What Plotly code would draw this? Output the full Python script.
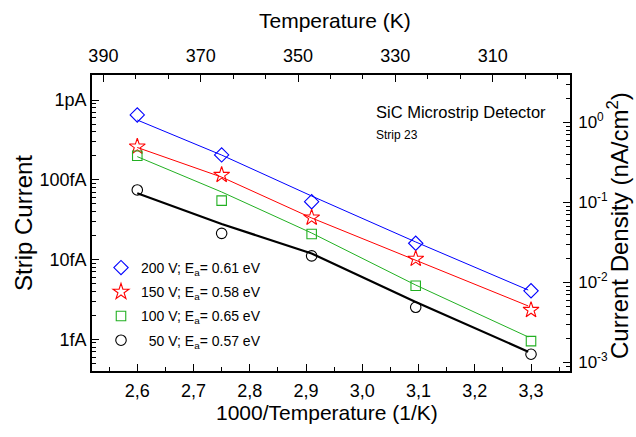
import plotly.graph_objects as go

# ---------------- data ----------------
inv_T = [2.60, 2.75, 2.91, 3.095, 3.30]          # 1000/T (1/K)
fit_x = [2.60, 2.75, 2.91, 3.095, 3.295]

i_200 = [6.49e-13, 2.05e-13, 5.31e-14, 1.60e-14, 4.06e-15]
i_150 = [2.60e-13, 1.15e-13, 3.35e-14, 1.02e-14, 2.33e-15]
i_100 = [2.00e-13, 5.47e-14, 2.09e-14, 4.70e-15, 9.5e-16]
i_50 = [7.45e-14, 2.13e-14, 1.11e-14, 2.52e-15, 6.5e-16]

fit_200 = [5.61e-13, 2.04e-13, 6.26e-14, 1.66e-14, 4.15e-15]
fit_150 = [2.54e-13, 1.08e-13, 3.32e-14, 9.87e-15, 2.62e-15]
fit_100 = [1.95e-13, 7.03e-14, 2.15e-14, 4.79e-15, 1.07e-15]
fit_50 = [6.77e-14, 2.79e-14, 1.19e-14, 2.94e-15, 7.0e-16]

names = ["200 V; E<sub>a</sub>= 0.61 eV", "150 V; E<sub>a</sub>= 0.58 eV",
         "100 V; E<sub>a</sub>= 0.65 eV", "\u00a0\u00a050 V; E<sub>a</sub>= 0.57 eV"]

x_tickvals = [2.6, 2.7, 2.8, 2.9, 3.0, 3.1, 3.2, 3.3]
x_ticktext = ["2,6", "2,7", "2,8", "2,9", "3,0", "3,1", "3,2", "3,3"]
top_tickvals = [390, 370, 350, 330, 310]
top_ticktext = ["390", "370", "350", "330", "310"]
y_tickvals = [1e-15, 1e-14, 1e-13, 1e-12]
y_ticktext = ["1fA", "10fA", "100fA", "1pA"]
y2_tickvals = [1e-3, 1e-2, 1e-1, 1]
y2_ticktext = ["10<sup>-3</sup>", "10<sup>-2</sup>", "10<sup>-1</sup>", "10<sup>0</sup>"]

# ---------------- style ----------------
FONT = "Liberation Sans, Arial, sans-serif"
colors = ["#0000FF", "#FF0000", "#22B022", "#000000"]
symbols = ["diamond-open", "star-open", "square-open", "circle-open"]
sizes = [11, 12, 9.5, 10.5]
lw = [1, 1, 1, 2.2]

W, H = 636, 437
L, R, T, B = 92, 66, 75, 66
PW, PH = W - L - R, H - T - B


def pxx(x):
    return (x - L) / PW


def pxy(y):
    return (H - B - y) / PH


def log_minor(lo, hi):
    vals = []
    for e in range(lo, hi):
        for k in range(2, 10):
            vals.append(k * 10 ** e)
    return vals


fig = go.Figure()

fits = [fit_200, fit_150, fit_100, fit_50]
data = [i_200, i_150, i_100, i_50]
for k in range(4):
    fig.add_trace(go.Scatter(x=fit_x, y=fits[k], mode="lines",
                             line=dict(color=colors[k], width=lw[k]),
                             showlegend=False, hoverinfo="skip"))
for k in range(4):
    fig.add_trace(go.Scatter(x=inv_T, y=data[k], mode="markers", name=names[k],
                             legendgroup=str(k),
                             marker=dict(symbol=symbols[k], size=sizes[k],
                                         color=colors[k], line=dict(width=1.1, color=colors[k]))))

# invisible trace to attach the top/right axes
fig.add_trace(go.Scatter(x=[350], y=[0.01], xaxis="x2", yaxis="y2", mode="markers",
                         marker=dict(opacity=0), showlegend=False, hoverinfo="skip"))

axis_common = dict(showline=True, linecolor="black", linewidth=1.6, ticks="inside",
                   tickcolor="black", tickwidth=1.2, ticklen=7, showgrid=False,
                   zeroline=False, tickfont=dict(family=FONT, size=18, color="black"))

fig.update_layout(
    width=W, height=H, margin=dict(l=L, r=R, t=T, b=B),
    paper_bgcolor="white", plot_bgcolor="white",
    font=dict(family=FONT, color="black"),
    xaxis=dict(range=[2.5195, 3.3693], tickmode="array", tickvals=x_tickvals,
               ticktext=x_ticktext, ticklabelstandoff=3,
               minor=dict(tickmode="array",
                          tickvals=[v + 0.05 for v in [2.5] + x_tickvals],
                          ticks="inside", ticklen=4, tickcolor="black", tickwidth=1.2),
               **axis_common),
    xaxis2=dict(range=[392.34, 294.11], overlaying="x", side="top", anchor="y",
                tickmode="array", tickvals=top_tickvals, ticktext=top_ticktext,
                ticklabelstandoff=4,
                minor=dict(tickmode="array",
                           tickvals=[v + d for v in top_tickvals + [290] for d in (20 / 3, 40 / 3)],
                           ticks="inside", ticklen=4, tickcolor="black", tickwidth=1.2),
                **axis_common),
    yaxis=dict(type="log", range=[-15.3973, -11.6866], tickmode="array",
               tickvals=y_tickvals, ticktext=y_ticktext,
               minor=dict(tickmode="array", tickvals=log_minor(-16, -11),
                          ticks="inside", ticklen=4, tickcolor="black", tickwidth=1),
               **axis_common),
    yaxis2=dict(type="log", range=[-3.10625, 0.5938], overlaying="y", side="right",
                anchor="x", tickmode="array", tickvals=y2_tickvals, ticktext=y2_ticktext,
                ticklabelstandoff=3,
                minor=dict(tickmode="array", tickvals=log_minor(-4, 1),
                           ticks="inside", ticklen=4, tickcolor="black", tickwidth=1),
                **{**axis_common, "tickfont": dict(family=FONT, size=17, color="black")}),
    legend=dict(x=pxx(101), y=pxy(252), xanchor="left", yanchor="top",
                bgcolor="rgba(0,0,0,0)", borderwidth=0, tracegroupgap=3,
                font=dict(family=FONT, size=14, color="black")),
    showlegend=True,
)

annots = [
    dict(text="Temperature (K)", x=pxx(335), y=pxy(21), size=21, angle=0),
    dict(text="1000/Temperature (1/K)", x=pxx(327), y=pxy(412), size=21, angle=0),
    dict(text="Strip Current", x=pxx(23), y=pxy(223), size=24, angle=-90),
    dict(text="Current Density (nA/cm<sup>2</sup>)", x=pxx(618), y=pxy(226), size=24, angle=-90),
]
for a in annots:
    fig.add_annotation(text=a["text"], x=a["x"], y=a["y"], xref="paper", yref="paper",
                       showarrow=False, textangle=a["angle"], xanchor="center", yanchor="middle",
                       font=dict(family=FONT, size=a["size"], color="black"))

fig.add_annotation(text="SiC Microstrip Detector", x=pxx(374), y=pxy(111.5), xref="paper",
                   yref="paper", showarrow=False, xanchor="left", yanchor="middle",
                   font=dict(family=FONT, size=16.5, color="black"))
fig.add_annotation(text="Strip 23", x=pxx(374), y=pxy(134.5), xref="paper",
                   yref="paper", showarrow=False, xanchor="left", yanchor="middle",
                   font=dict(family=FONT, size=12, color="black"))

fig.write_html("out.html")
